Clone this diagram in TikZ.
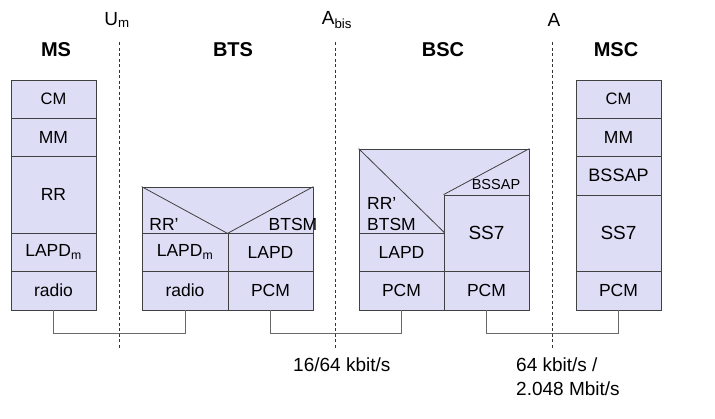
\documentclass[tikz,border=0pt]{standalone}
\usepackage{fontspec}
\setmainfont{Liberation Sans}
\usepackage{tikz}
\usetikzlibrary{arrows.meta}

\definecolor{boxfill}{RGB}{221,221,246}
\definecolor{boxline}{RGB}{65,65,65}
\definecolor{linkgray}{RGB}{105,105,105}

\begin{document}
\begin{tikzpicture}[
  x=1pt, y=-1pt,
  layer/.style={draw=boxline,fill=boxfill,line width=0.8pt,inner sep=0pt,minimum width=85pt,minimum height=38pt,font=\fontsize{17.5}{20}\selectfont},
  tag/.style={inner sep=0pt,font=\fontsize{17.5}{20}\selectfont},
  title/.style={inner sep=0pt,font=\bfseries\fontsize{20}{22}\selectfont},
  iface/.style={inner sep=0pt,font=\fontsize{19}{22}\selectfont},
  divider/.style={draw=black!80,line width=0.8pt,dash pattern=on 3pt off 2.5pt},
  link/.style={draw=linkgray,line width=0.9pt}
]
  \useasboundingbox (0,0) rectangle (715,418);

  % entities
  \node[title] (tms) at (56,50) {MS};
  \node[title] (tbts) at (233,50) {BTS};
  \node[title] (tbsc) at (443,50) {BSC};
  \node[title] (tmsc) at (616,50) {MSC};

  % interfaces
  \node[iface] (um) at (117,20) {U\textsubscript{m}};
  \node[iface] (abis) at (337,20) {A\textsubscript{bis}};
  \node[iface] (a) at (554,20) {A};
  \coordinate (um1) at (119,42);   \coordinate (um2) at (119,348);
  \coordinate (abis1) at (335,42); \coordinate (abis2) at (335,348);
  \coordinate (a1) at (552,42);    \coordinate (a2) at (552,348);
  \draw[divider] (um1) -- (um2);
  \draw[divider] (abis1) -- (abis2);
  \draw[divider] (a1) -- (a2);

  % MS stack
  \node[layer,font=\fontsize{16.5}{20}\selectfont] (mscm) at (53.5,99) {CM};
  \node[layer] (msmm) at (53.5,137) {MM};
  \node[layer,minimum height=77pt] (msrr) at (53.5,194.5) {RR};
  \node[layer] (mslapd) at (53.5,252) {LAPD\textsubscript{m}};
  \node[layer,minimum height=39pt] (msradio) at (53.5,290.5) {radio};

  % BTS stack
  \node[layer,minimum width=171pt,minimum height=46pt] (btstop) at (227.5,210) {};
  \draw[boxline,line width=0.8pt] (btstop.north west) -- (btstop.south) -- (btstop.north east);
  \node[tag] (btsrr) at (164,224) {RR'};
  \node[tag] (btsbtsm) at (293,224) {BTSM};
  \node[layer,minimum width=86pt] (btslapdm) at (185,252) {LAPD\textsubscript{m}};
  \node[layer] (btslapd) at (270.5,252) {LAPD};
  \node[layer,minimum width=86pt,minimum height=39pt] (btsradio) at (185,290.5) {radio};
  \node[layer,minimum height=39pt] (btspcm) at (270.5,290.5) {PCM};

  % BSC stack
  \node[layer,minimum width=170pt,minimum height=84pt] (bsctop) at (444,191) {};
  \node[layer,minimum height=76pt,font=\fontsize{19}{22}\selectfont] (bscss7) at (486.5,233) {SS7};
  \node[layer] (bsclapd) at (401.5,252) {LAPD};
  \node[layer,minimum height=39pt] (bscpcm1) at (401.5,290.5) {PCM};
  \node[layer,minimum height=39pt] (bscpcm2) at (486.5,290.5) {PCM};
  \draw[boxline,line width=0.8pt] (bsctop.north west) -- (bsclapd.north east);
  \draw[boxline,line width=0.8pt] (bscss7.north west) -- (bsctop.north east);
  \node[tag,font=\fontsize{14.5}{16}\selectfont] (bscbssap) at (496,185) {BSSAP};
  \node[tag,anchor=west] (bscrr) at (367,203) {RR'};
  \node[tag,anchor=west] (bscbtsm) at (367,224) {BTSM};

  % MSC stack
  \node[layer,font=\fontsize{16.5}{20}\selectfont] (msccm) at (618.5,99) {CM};
  \node[layer] (mscmm) at (618.5,137) {MM};
  \node[layer,minimum height=39pt,font=\fontsize{18}{20}\selectfont] (mscbssap) at (618.5,175.5) {BSSAP};
  \node[layer,minimum height=76pt,font=\fontsize{19}{22}\selectfont] (mscss7) at (618.5,233) {SS7};
  \node[layer,minimum height=39pt] (mscpcm) at (618.5,290.5) {PCM};

  % links
  \draw[link] (msradio.south) -- ++(0,23) -| (btsradio.south);
  \draw[link] (btspcm.south) -- ++(0,23) -| (bscpcm1.south);
  \draw[link] (bscpcm2.south) -- ++(0,23) -| (mscpcm.south);

  % rates
  \node[tag,anchor=west,font=\fontsize{19}{24}\selectfont] (rate1) at (293,365) {16/64 kbit/s};
  \node[tag,anchor=north west,align=left,font=\fontsize{19}{24}\selectfont] (rate2) at (516,358) {64 kbit/s /\\2.048 Mbit/s};

\end{tikzpicture}
\end{document}
